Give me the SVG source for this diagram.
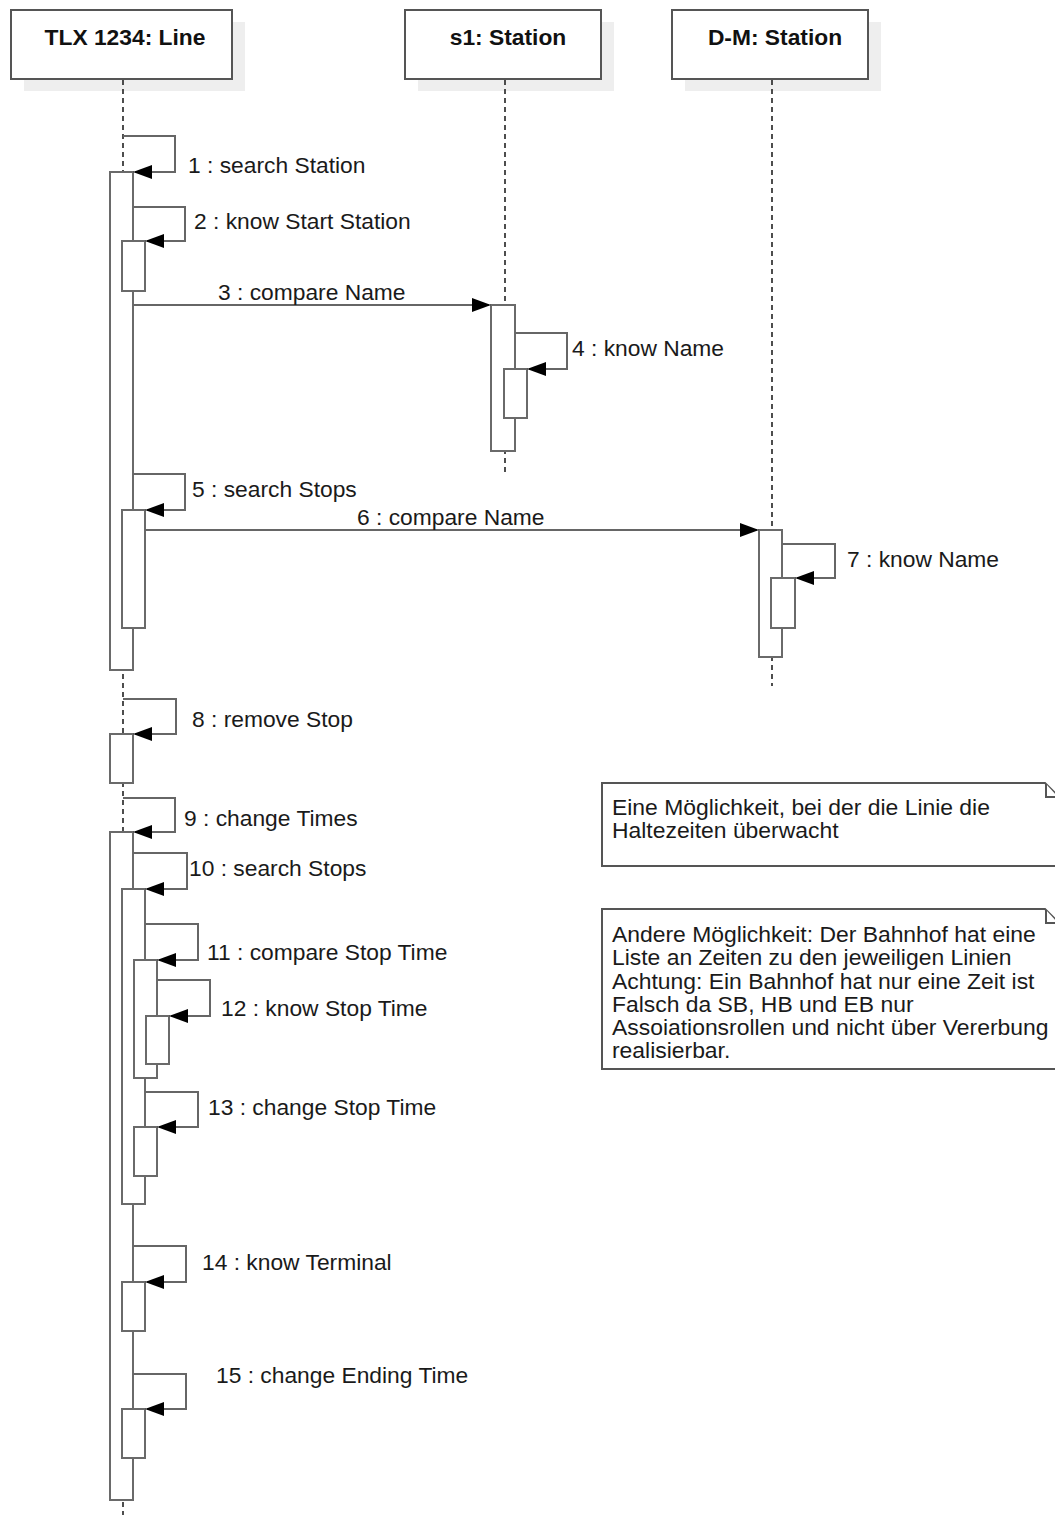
<svg xmlns="http://www.w3.org/2000/svg" width="1055" height="1515" viewBox="0 0 1055 1515">
<style>
  .hdr{fill:#fff;stroke:#555;stroke-width:2}
  .shadow{fill:#eeeeee;stroke:none}
  .htxt{font-family:"Liberation Sans",Arial,sans-serif;font-size:22.8px;font-weight:bold;fill:#111;text-anchor:middle}
  .life{stroke:#222;stroke-width:1.6;stroke-dasharray:5 4;fill:none}
  .act{fill:#fff;stroke:#6a6a6a;stroke-width:2}
  .msg{fill:none;stroke:#666;stroke-width:2}
  .ah{fill:#000;stroke:none}
  .lbl{font-family:"Liberation Sans",Arial,sans-serif;font-size:22.8px;fill:#1a1a1a}
  .note{fill:#fff;stroke:#555;stroke-width:2}
  .ntxt{font-family:"Liberation Sans",Arial,sans-serif;font-size:22.9px;fill:#1a1a1a}
</style>
<g id="lifeline-tlx">
  <rect class="shadow" x="24" y="22" width="221" height="69"/>
  <rect class="hdr" x="11" y="10" width="221" height="69"/>
  <text class="htxt" x="125" y="45">TLX 1234: Line</text>
  <line class="life" x1="123" y1="80" x2="123" y2="1515"/>
</g>
<g id="lifeline-s1">
  <rect class="shadow" x="418" y="22" width="196" height="69"/>
  <rect class="hdr" x="405" y="10" width="196" height="69"/>
  <text class="htxt" x="508" y="45">s1: Station</text>
  <line class="life" x1="505" y1="80" x2="505" y2="476"/>
</g>
<g id="lifeline-dm">
  <rect class="shadow" x="685" y="22" width="196" height="69"/>
  <rect class="hdr" x="672" y="10" width="196" height="69"/>
  <text class="htxt" x="775" y="45">D-M: Station</text>
  <line class="life" x1="772" y1="80" x2="772" y2="686"/>
</g>
<g id="activations">
  <rect class="act" x="110" y="172" width="23" height="498"/>
  <rect class="act" x="122" y="241" width="23" height="50"/>
  <rect class="act" x="491" y="305" width="24" height="146"/>
  <rect class="act" x="504" y="369" width="23" height="49"/>
  <rect class="act" x="122" y="510" width="23" height="118"/>
  <rect class="act" x="759" y="530" width="23" height="127"/>
  <rect class="act" x="771" y="578" width="24" height="50"/>
  <rect class="act" x="110" y="734" width="23" height="49"/>
  <rect class="act" x="110" y="832" width="23" height="668"/>
  <rect class="act" x="122" y="889" width="23" height="315"/>
  <rect class="act" x="134" y="960" width="23" height="118"/>
  <rect class="act" x="146" y="1016" width="23" height="48"/>
  <rect class="act" x="134" y="1127" width="23" height="49"/>
  <rect class="act" x="122" y="1282" width="23" height="49"/>
  <rect class="act" x="122" y="1409" width="23" height="49"/>
</g>
<g id="connectors">
  <polyline class="msg" points="123,136 175,136 175,172 135,172"/>
  <polygon class="ah" points="133,172 152,165 152,179"/>
  <polyline class="msg" points="133,207 185,207 185,241 147,241"/>
  <polygon class="ah" points="145,241 164,234 164,248"/>
  <line class="msg" x1="133" y1="305" x2="489" y2="305"/>
  <polygon class="ah" points="491,305 472,298 472,312"/>
  <polyline class="msg" points="515,333 567,333 567,369 529,369"/>
  <polygon class="ah" points="527,369 546,362 546,376"/>
  <polyline class="msg" points="133,474 185,474 185,510 147,510"/>
  <polygon class="ah" points="145,510 164,503 164,517"/>
  <line class="msg" x1="145" y1="530" x2="757" y2="530"/>
  <polygon class="ah" points="759,530 740,523 740,537"/>
  <polyline class="msg" points="782,544 835,544 835,578 797,578"/>
  <polygon class="ah" points="795,578 814,571 814,585"/>
  <polyline class="msg" points="123,699 176,699 176,734 135,734"/>
  <polygon class="ah" points="133,734 152,727 152,741"/>
  <polyline class="msg" points="123,798 175,798 175,832 135,832"/>
  <polygon class="ah" points="133,832 152,825 152,839"/>
  <polyline class="msg" points="133,853 187,853 187,889 147,889"/>
  <polygon class="ah" points="145,889 164,882 164,896"/>
  <polyline class="msg" points="145,924 198,924 198,960 159,960"/>
  <polygon class="ah" points="157,960 176,953 176,967"/>
  <polyline class="msg" points="157,980 210,980 210,1016 171,1016"/>
  <polygon class="ah" points="169,1016 188,1009 188,1023"/>
  <polyline class="msg" points="145,1092 198,1092 198,1127 159,1127"/>
  <polygon class="ah" points="157,1127 176,1120 176,1134"/>
  <polyline class="msg" points="133,1246 186,1246 186,1282 147,1282"/>
  <polygon class="ah" points="145,1282 164,1275 164,1289"/>
  <polyline class="msg" points="133,1374 186,1374 186,1409 147,1409"/>
  <polygon class="ah" points="145,1409 164,1402 164,1416"/>
</g>
<g id="labels">
  <text class="lbl" x="188" y="173">1 : search Station</text>
  <text class="lbl" x="194" y="229">2 : know Start Station</text>
  <text class="lbl" x="218" y="300">3 : compare Name</text>
  <text class="lbl" x="572" y="356">4 : know Name</text>
  <text class="lbl" x="192" y="497">5 : search Stops</text>
  <text class="lbl" x="357" y="525">6 : compare Name</text>
  <text class="lbl" x="847" y="567">7 : know Name</text>
  <text class="lbl" x="192" y="727">8 : remove Stop</text>
  <text class="lbl" x="184" y="826">9 : change Times</text>
  <text class="lbl" x="189" y="876">10 : search Stops</text>
  <text class="lbl" x="207" y="960">11 : compare Stop Time</text>
  <text class="lbl" x="221" y="1016">12 : know Stop Time</text>
  <text class="lbl" x="208" y="1115">13 : change Stop Time</text>
  <text class="lbl" x="202" y="1270">14 : know Terminal</text>
  <text class="lbl" x="216" y="1383">15 : change Ending Time</text>
</g>
<g id="note-1">
  <path class="note" d="M602,783 L1045,783 L1058,796 L1058,866 L602,866 Z"/>
  <path class="note" d="M1046,784 L1046,797 L1058,797" fill="none"/>
  <text class="ntxt" x="612" y="815">Eine Möglichkeit, bei der die Linie die</text>
  <text class="ntxt" x="612" y="838">Haltezeiten überwacht</text>
</g>
<g id="note-2">
  <path class="note" d="M602,909 L1045,909 L1058,922 L1058,1069 L602,1069 Z"/>
  <path class="note" d="M1046,910 L1046,923 L1058,923" fill="none"/>
  <text class="ntxt" x="612" y="942">Andere Möglichkeit: Der Bahnhof hat eine</text>
  <text class="ntxt" x="612" y="965">Liste an Zeiten zu den jeweiligen Linien</text>
  <text class="ntxt" x="612" y="989">Achtung: Ein Bahnhof hat nur eine Zeit ist</text>
  <text class="ntxt" x="612" y="1012">Falsch da SB, HB und EB nur</text>
  <text class="ntxt" x="612" y="1035">Assoiationsrollen und nicht über Vererbung</text>
  <text class="ntxt" x="612" y="1058">realisierbar.</text>
</g>
</svg>
